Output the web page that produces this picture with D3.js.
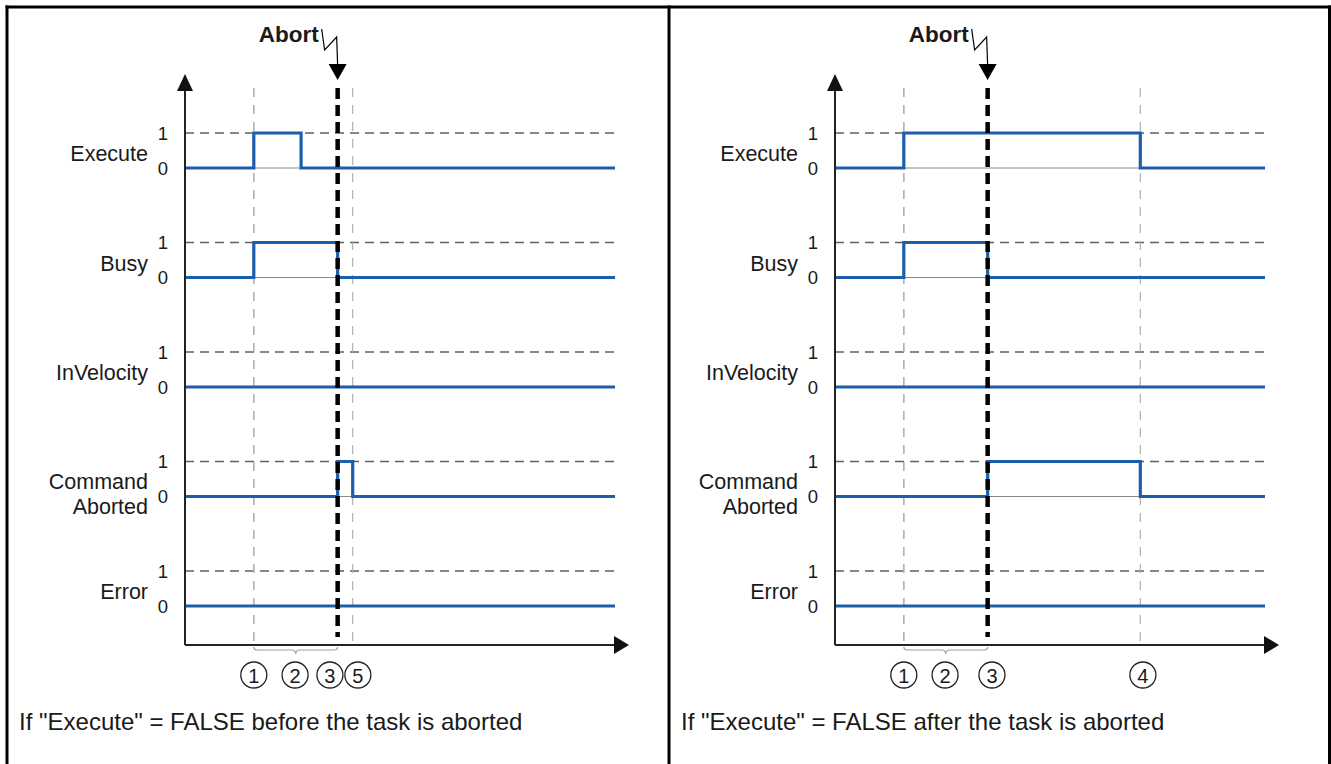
<!DOCTYPE html>
<html>
<head>
<meta charset="utf-8">
<script src="https://cdn.jsdelivr.net/npm/d3@7/dist/d3.min.js"></script>
<style>
  html, body { margin: 0; padding: 0; background: #fff; }
  svg { display: block; }
  text { font-family: "Liberation Sans", Arial, sans-serif; fill: #1a1a1a; }
</style>
</head>
<body>
<svg id="chart" width="1331" height="764"></svg>
<script>
// Signal names shown on the left of each timing diagram
const signals = [["Execute"], ["Busy"], ["InVelocity"], ["Command", "Aborted"], ["Error"]];
const levelLabels = ["1", "0"];

// Time instants (0..100 along the time axis)
const abortTime = 35.5;

// Left diagram: "Execute" drops before the abort
const leftSteps = [
  [[0, 0], [16, 1], [27, 0], [100, 0]],
  [[0, 0], [16, 1], [35.5, 0], [100, 0]],
  [[0, 0], [100, 0]],
  [[0, 0], [35.5, 1], [39, 0], [100, 0]],
  [[0, 0], [100, 0]]
];
const leftEvents = [16, 39];
const leftMarkers = [["1", 16], ["2", 25.6], ["3", 33.7], ["5", 40.2]];
const leftCaption = 'If "Execute" = FALSE before the task is aborted';

// Right diagram: "Execute" drops after the abort
const rightSteps = [
  [[0, 0], [16, 1], [71, 0], [100, 0]],
  [[0, 0], [16, 1], [35.5, 0], [100, 0]],
  [[0, 0], [100, 0]],
  [[0, 0], [35.5, 1], [71, 0], [100, 0]],
  [[0, 0], [100, 0]]
];
const rightEvents = [16, 71];
const rightMarkers = [["1", 16], ["2", 25.6], ["3", 36.5], ["4", 71.6]];
const rightCaption = 'If "Execute" = FALSE after the task is aborted';

const braceSpan = [16, 35.5];

const panels = [
  { ox: 185, steps: leftSteps, events: leftEvents, markers: leftMarkers, caption: leftCaption, capX: 19 },
  { ox: 835, steps: rightSteps, events: rightEvents, markers: rightMarkers, caption: rightCaption, capX: 681 }
];

const svg = d3.select("#chart");
const blue = "#1c5eac";

// Frame around both diagrams
const frame = svg.append("g").attr("stroke", "#000").attr("stroke-width", 3).attr("fill", "none");
frame.append("line").attr("x1", 5.5).attr("x2", 1331).attr("y1", 7).attr("y2", 7);
[7, 669, 1329.5].forEach(x => frame.append("line").attr("x1", x).attr("x2", x).attr("y1", 5.5).attr("y2", 764));

// Rows: value 1 level of each signal, and the 0 level below it
const row = d3.scaleLinear().domain([0, 4]).range([133, 571]);
const level = d3.scaleLinear().domain([0, 1]).range([35, 0]);
const axisBottom = 645;
const axisTop = 74;
const lineTop = 88;

panels.forEach(p => {
  const g = svg.append("g");
  const x = d3.scaleLinear().domain([0, 100]).range([p.ox, p.ox + 430]);
  const ax = x(0);

  // Dashed "1" reference lines
  signals.forEach((s, i) => {
    g.append("line")
      .attr("x1", ax).attr("x2", x(100))
      .attr("y1", row(i) + level(1)).attr("y2", row(i) + level(1))
      .attr("stroke", "#606060").attr("stroke-width", 1.5)
      .attr("stroke-dasharray", "9,6");
  });

  // Thin grey event lines (task start plus the listed events)
  [16].concat(p.events).forEach(t => {
    g.append("line")
      .attr("x1", x(t)).attr("x2", x(t))
      .attr("y1", lineTop).attr("y2", axisBottom)
      .attr("stroke", "#b0b0b0").attr("stroke-width", 1.2)
      .attr("stroke-dasharray", "9,8");
  });

  // Thin zero baselines
  signals.forEach((s, i) => {
    g.append("line")
      .attr("x1", ax).attr("x2", x(100))
      .attr("y1", row(i) + level(0)).attr("y2", row(i) + level(0))
      .attr("stroke", "#8a8a8a").attr("stroke-width", 1);
  });

  // Signal traces
  const line = d3.line()
    .x(d => x(d[0]))
    .curve(d3.curveStepAfter);
  p.steps.forEach((steps, i) => {
    g.append("path")
      .datum(steps)
      .attr("d", line.y(d => row(i) + level(d[1])))
      .attr("fill", "none")
      .attr("stroke", blue).attr("stroke-width", 3.2)
      .attr("stroke-linejoin", "miter");
  });

  // Abort marker: thick dashed line with arrow and flash
  const xa = x(abortTime);
  g.append("line")
    .attr("x1", xa).attr("x2", xa)
    .attr("y1", lineTop).attr("y2", axisBottom - 8)
    .attr("stroke", "#000").attr("stroke-width", 4.5)
    .attr("stroke-dasharray", "11,6");
  g.append("path")
    .attr("d", `M${xa - 16},29 L${xa - 13},50 L${xa - 1},37 L${xa},66`)
    .attr("fill", "none").attr("stroke", "#000").attr("stroke-width", 1.2);
  g.append("path")
    .attr("d", `M${xa - 9},64 L${xa + 9},64 L${xa},80 Z`)
    .attr("fill", "#000");
  g.append("text")
    .attr("x", xa - 19).attr("y", 42)
    .attr("text-anchor", "end")
    .attr("font-size", 22.5).attr("font-weight", "bold")
    .text("Abort");

  // Axes with arrowheads
  g.append("line")
    .attr("x1", ax).attr("x2", ax).attr("y1", axisTop + 12).attr("y2", axisBottom)
    .attr("stroke", "#222").attr("stroke-width", 2);
  g.append("path")
    .attr("d", `M${ax - 8},${axisTop + 17} L${ax + 8},${axisTop + 17} L${ax},${axisTop} Z`)
    .attr("fill", "#111");
  g.append("line")
    .attr("x1", ax).attr("x2", x(100) + 4).attr("y1", axisBottom).attr("y2", axisBottom)
    .attr("stroke", "#222").attr("stroke-width", 2);
  g.append("path")
    .attr("d", `M${x(100) - 1},${axisBottom - 9} L${x(100) - 1},${axisBottom + 9} L${x(100) + 14},${axisBottom} Z`)
    .attr("fill", "#111");

  // Signal names and level numbers
  signals.forEach((names, i) => {
    const y0 = row(i) + level(0);
    const t = g.append("text")
      .attr("x", ax - 37)
      .attr("text-anchor", "end")
      .attr("font-size", 21.5);
    if (names.length === 1) {
      t.attr("y", y0 - 7).text(names[0]);
    } else {
      t.append("tspan").attr("x", ax - 37).attr("y", y0 - 8).text(names[0]);
      t.append("tspan").attr("x", ax - 37).attr("y", y0 + 17).text(names[1]);
    }
    levelLabels.forEach((lab, k) => {
      g.append("text")
        .attr("x", ax - 22)
        .attr("y", row(i) + level(1 - k) + 6.5)
        .attr("text-anchor", "middle")
        .attr("font-size", 18.5)
        .text(lab);
    });
  });

  // Brace spanning the start of the task up to the abort
  const b1 = x(braceSpan[0]), b2 = x(braceSpan[1]), bm = (b1 + b2) / 2, by = axisBottom + 5;
  g.append("path")
    .attr("d", `M${b1},${by - 3} Q${b1},${by} ${b1 + 4},${by} L${bm - 4},${by} Q${bm},${by} ${bm},${by + 4} Q${bm},${by} ${bm + 4},${by} L${b2 - 4},${by} Q${b2},${by} ${b2},${by - 3}`)
    .attr("fill", "none").attr("stroke", "#a0a0a0").attr("stroke-width", 1.2);

  // Circled step numbers
  p.markers.forEach(([lab, t]) => {
    g.append("circle")
      .attr("cx", x(t)).attr("cy", 675).attr("r", 13)
      .attr("fill", "#fff").attr("stroke", "#222").attr("stroke-width", 1.3);
    g.append("text")
      .attr("x", x(t)).attr("y", 682.5)
      .attr("text-anchor", "middle")
      .attr("font-size", 20)
      .text(lab);
  });

  // Caption
  g.append("text")
    .attr("x", p.capX).attr("y", 730)
    .attr("font-size", 24)
    .text(p.caption);
});
</script>
</body>
</html>
